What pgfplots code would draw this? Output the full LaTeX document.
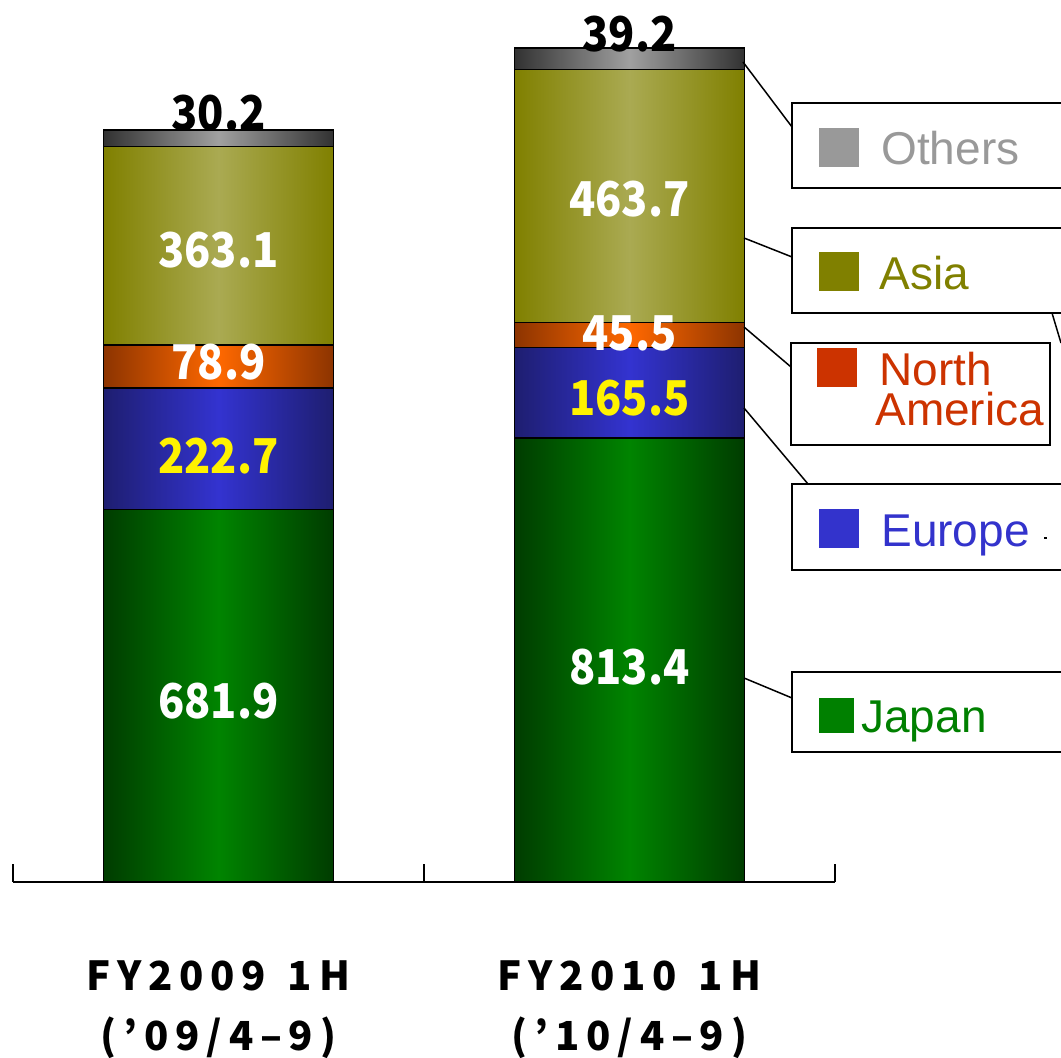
\documentclass[border=0pt]{standalone}
\usepackage{pgfplots}
\pgfplotsset{compat=1.18}
\usepackage{fontspec}
\setmainfont{Liberation Sans}
\newfontfamily\gothic[FakeStretch=0.9]{Noto Sans CJK JP}
\newfontfamily\gothicwide[LetterSpace=17]{Noto Sans CJK JP}
\definecolor{japanE}{RGB}{0,60,0}
\definecolor{japanM}{RGB}{0,132,0}
\definecolor{euroE}{RGB}{30,30,112}
\definecolor{euroM}{RGB}{51,51,208}
\definecolor{naE}{RGB}{140,52,0}
\definecolor{naM}{RGB}{255,104,0}
\definecolor{asiaE}{RGB}{128,128,0}
\definecolor{asiaM}{RGB}{170,170,82}
\definecolor{othE}{RGB}{50,50,50}
\definecolor{othM}{RGB}{160,160,160}
\definecolor{legOth}{RGB}{153,153,153}
\definecolor{legAsia}{RGB}{128,128,0}
\definecolor{legNA}{RGB}{204,51,0}
\definecolor{legEuro}{RGB}{51,51,204}
\definecolor{legJapan}{RGB}{0,128,0}
\pgfplotsset{
  base/.style={
    at={(6.5pt,88pt)}, anchor=south west,
    scale only axis, width=411pt, height=441pt,
    xmin=-0.5, xmax=1.5, ymin=0, ymax=1615.1,
    ybar stacked, bar width=115pt, clip=false},
  seg/.style n args={2}{draw=black, line width=0.75pt,
    left color=#1, right color=#1, middle color=#2}
}
\tikzset{val/.style={font=\gothic\bfseries\fontsize{24}{24}\selectfont}}
\begin{document}
\begin{tikzpicture}
\useasboundingbox (0,0) rectangle (530.5pt,529pt);
% FY2009 bar with the axis line and category labels
\begin{axis}[base,
  axis y line=none, axis x line*=bottom,
  x axis line style={-, line width=1pt, black},
  xtick={-0.5,0.5,1.5}, xticklabels={},
  tick align=inside, major tick length=9pt,
  tick style={line width=1pt, black},
  extra x ticks={0,1},
  extra x tick labels={{FY2009\hspace{3pt} 1H\\(’09/4–9)},{FY2010\hspace{3pt} 1H\\(’10/4–9)}},
  extra x tick style={major tick length=0pt,
    xticklabel style={font=\gothicwide\bfseries\fontsize{20}{30}\selectfont,
      align=center, anchor=north, inner sep=0pt, yshift=-39pt}}
]
\addplot[seg={japanE}{japanM}] coordinates {(0,681.9)};
\addplot[seg={euroE}{euroM}] coordinates {(0,222.7)};
\addplot[seg={naE}{naM}] coordinates {(0,78.9)};
\addplot[seg={asiaE}{asiaM}] coordinates {(0,363.1)};
\addplot[seg={othE}{othM}] coordinates {(0,30.2)};
\coordinate (a1) at (axis cs:0,331.4);
\coordinate (a2) at (axis cs:0,780.1);
\coordinate (a3) at (axis cs:0,952.0);
\coordinate (a4) at (axis cs:0,1158.0);
\coordinate (a5) at (axis cs:0,1376.8);
\end{axis}
% FY2010 bar
\begin{axis}[base, hide axis]
\addplot[seg={japanE}{japanM}] coordinates {(1,813.4)};
\addplot[seg={euroE}{euroM}] coordinates {(1,165.5)};
\addplot[seg={naE}{naM}] coordinates {(1,45.5)};
\addplot[seg={asiaE}{asiaM}] coordinates {(1,463.7)};
\addplot[seg={othE}{othM}] coordinates {(1,39.2)};
\coordinate (b1) at (axis cs:1,393.7);
\coordinate (b2) at (axis cs:1,887.0);
\coordinate (b3) at (axis cs:1,1004.5);
\coordinate (b4) at (axis cs:1,1250.0);
\coordinate (b5) at (axis cs:1,1527.3);
\end{axis}
% value labels
\node[val, text=white] at (a1) {681.9};
\node[val, text=yellow] at (a2) {222.7};
\node[val, text=white] at (a3) {78.9};
\node[val, text=white] at (a4) {363.1};
\node[val, text=black, anchor=base, inner sep=0pt] at (a5) {30.2};
\node[val, text=white] at (b1) {813.4};
\node[val, text=yellow] at (b2) {165.5};
\node[val, text=white] at (b3) {45.5};
\node[val, text=white] at (b4) {463.7};
\node[val, text=black, anchor=base, inner sep=0pt, yshift=-2pt] at (b5) {39.2};
\begin{scope}[x=0.5pt, y=-0.5pt, shift={(0,529pt)}]
  \tikzset{leg/.style={font=\fontsize{23}{23}\selectfont, anchor=base west, inner sep=0pt}}
  % leader lines
  \draw[line width=0.75pt] (743,62) -- (792,127);
  \draw[line width=0.75pt] (744,238) -- (792,257);
  \draw[line width=0.75pt] (744,327) -- (791,367);
  \draw[line width=0.75pt] (744,408) -- (808,484);
  \draw[line width=0.75pt] (744,678) -- (792,698);
  \draw[line width=0.75pt] (1052,313) -- (1061,343);
  \draw[line width=0.6pt] (1044,538) -- (1047,538);
  % boxes
  \draw[line width=1pt] (1061,103) -- (792,103) -- (792,188) -- (1061,188);
  \draw[line width=1pt] (1061,228) -- (792,228) -- (792,313) -- (1061,313);
  \draw[line width=1pt] (791,343) rectangle (1050,445);
  \draw[line width=1pt] (1061,484) -- (792,484) -- (792,570) -- (1061,570);
  \draw[line width=1pt] (1061,672) -- (792,672) -- (792,752) -- (1061,752);
  % squares
  \fill[legOth] (819,128) rectangle (859,167);
  \fill[legAsia] (819,252) rectangle (859,291);
  \fill[legNA] (817,348) rectangle (857,387);
  \fill[legEuro] (819,509) rectangle (859,548);
  \fill[legJapan] (819,698) rectangle (854,733);
  % texts
  \node[leg, text=legOth] at (881,165) {Others};
  \node[leg, text=legAsia] at (879,290) {Asia};
  \node[leg, text=legNA, anchor=north west, align=left, font=\fontsize{23}{20}\selectfont]
    at (875,352) {\hspace{2pt}North\\America};
  \node[leg, text=legEuro] at (881,547) {Europe};
  \node[leg, text=legJapan] at (861,733) {Japan};
\end{scope}
\end{tikzpicture}
\end{document}
